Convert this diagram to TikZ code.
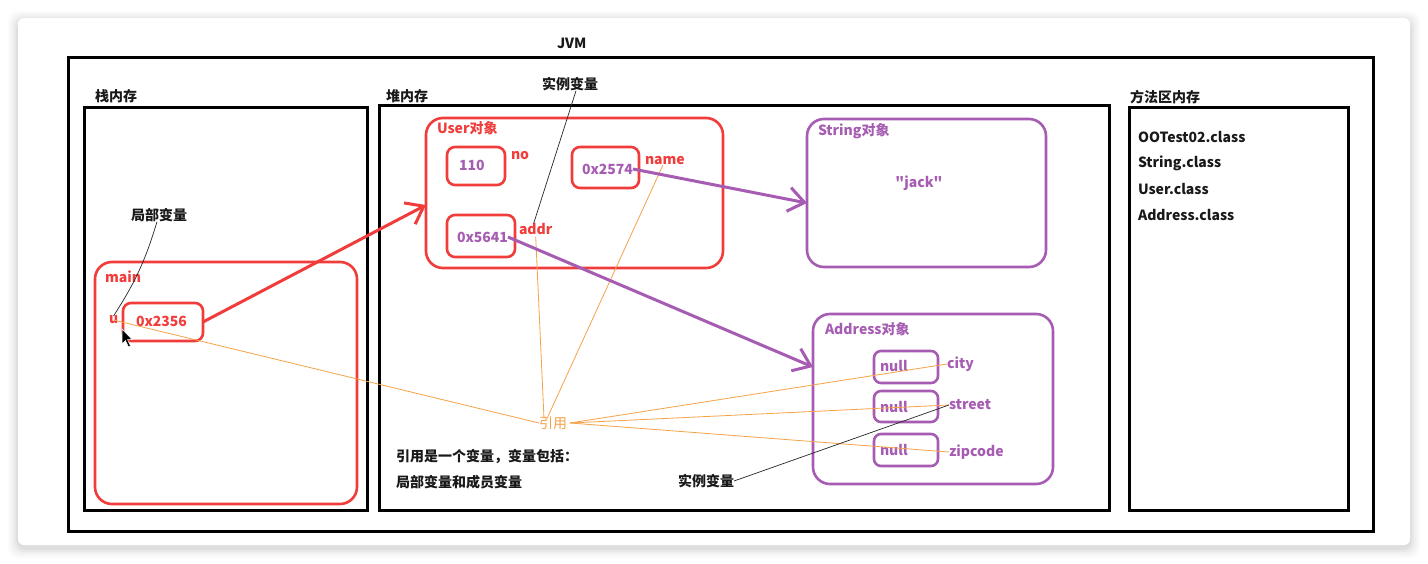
\documentclass[tikz,border=0pt]{standalone}
\usepackage{fontspec}
\setmainfont{Noto Sans CJK SC}
\newfontfamily\plainqf{Noto Sans CJK SC}
\usetikzlibrary{arrows.meta}
\definecolor{jred}{RGB}{240,60,58}
\definecolor{jpurple}{RGB}{166,92,178}
\definecolor{jorange}{RGB}{246,162,72}
\definecolor{jtxt}{RGB}{25,25,25}
\begin{document}
\begin{tikzpicture}[x=1pt,y=-1pt,
  frame/.style={draw=black,line width=3pt,inner sep=0pt,outer sep=0pt},
  redbox/.style={draw=jred,line width=2.6pt,rounded corners=17pt,inner sep=0pt,outer sep=0pt},
  redsmall/.style={draw=jred,line width=2.6pt,rounded corners=8pt,inner sep=0pt,outer sep=0pt},
  purbox/.style={draw=jpurple,line width=2.6pt,rounded corners=17pt,inner sep=0pt,outer sep=0pt},
  pursmall/.style={draw=jpurple,line width=2.6pt,rounded corners=7pt,inner sep=0pt,outer sep=0pt},
  lbl/.style={font=\fontsize{14}{16}\selectfont\bfseries,inner sep=0pt,outer sep=0pt,anchor=west,text=jtxt},
  redtxt/.style={lbl,text=jred},
  purtxt/.style={lbl,text=jpurple},
  orgtxt/.style={lbl,text=jorange,font=\fontsize{14}{16}\selectfont},
  refline/.style={draw=jorange,line width=0.8pt},
  noteline/.style={draw=black!85,line width=0.7pt},
  redarrow/.style={draw=jred,line width=3pt,-{Straight Barb[length=16pt,width=24pt,line width=3pt]}},
  purarrow/.style={draw=jpurple,line width=3pt,-{Straight Barb[length=16pt,width=24pt,line width=3pt]}}
]
\useasboundingbox (0,0) rectangle (1428,564);
\fill[white] (0,0) rectangle (1428,564);
% card shadow
\foreach \i/\o in {10/0.015,8/0.02,6/0.025,4/0.03,2/0.04}
  \fill[black,opacity=\o,rounded corners=10pt] (18-\i,18-\i+3) rectangle (1410+\i,545+\i+3);
\fill[white,rounded corners=6pt] (18,18) rectangle (1410,545);

% frames
\node[frame,minimum width=1305pt,minimum height=473pt] (jvm) at (720.5,294.5) {};
\node[lbl] (jvmlbl) at (557,43) {JVM};
\node[frame,minimum width=283pt,minimum height=402pt] (stack) at (225.5,309) {};
\node[lbl] (stacklbl) at (95,96) {栈内存};
\node[frame,minimum width=730pt,minimum height=404pt] (heap) at (744,308) {};
\node[lbl] (heaplbl) at (386,96) {堆内存};
\node[frame,minimum width=219pt,minimum height=402pt] (method) at (1238.5,309) {};
\node[lbl] (methodlbl) at (1130,97) {方法区内存};
\node[lbl] (c1) at (1138,137) {OOTest02.class};
\node[lbl] (c2) at (1138,163) {String.class};
\node[lbl] (c3) at (1138,189) {User.class};
\node[lbl] (c4) at (1138,215) {Address.class};

% stack frame main
\node[redbox,minimum width=262pt,minimum height=242pt] (main) at (226,383) {};
\node[redtxt] (mainlbl) at (105,277) {main};
\node[redsmall,minimum width=80pt,minimum height=38pt] (ptr) at (163,322) {};
\node[redtxt] (ptrtxt) at (136,321) {0x2356};
\node[redtxt] (u) at (109,320) {u};
\node[lbl] (local) at (131,215) {局部变量};

% User object
\node[redbox,minimum width=297pt,minimum height=150pt] (user) at (574.5,193) {};
\node[redtxt] (userlbl) at (437,128) {User对象};
\node[redsmall,minimum width=58pt,minimum height=38pt] (b110) at (476,166) {};
\node[purtxt] (t110) at (459,165) {110};
\node[redtxt] (no) at (511,156) {no};
\node[redsmall,minimum width=67pt,minimum height=41pt] (b2574) at (605.5,167.5) {};
\node[purtxt] (t2574) at (582,169) {0x2574};
\node[redtxt] (name) at (645,161) {name};
\node[redsmall,minimum width=68pt,minimum height=42pt] (b5641) at (481,236) {};
\node[purtxt] (t5641) at (457,237) {0x5641};
\node[redtxt] (addr) at (519,229) {addr};
\node[lbl] (inst1) at (542,84) {实例变量};

% String object
\node[purbox,minimum width=239pt,minimum height=148pt] (string) at (926.5,193) {};
\node[purtxt] (stringlbl) at (818,131) {String对象};
\node[purtxt,anchor=center] (jack) at (919,183) {\plainqf\bfseries "jack"};

% Address object
\node[purbox,minimum width=240pt,minimum height=170pt] (address) at (933,399) {};
\node[purtxt] (addresslbl) at (825,329) {Address对象};
\node[pursmall,minimum width=64pt,minimum height=32pt] (n1) at (906,367) {};
\node[pursmall,minimum width=64pt,minimum height=31pt] (n2) at (906,406.5) {};
\node[pursmall,minimum width=64pt,minimum height=32pt] (n3) at (906,450) {};
\node[purtxt] (n1t) at (880,366) {null};
\node[purtxt] (n2t) at (880,407) {null};
\node[purtxt] (n3t) at (880,450) {null};
\node[purtxt] (city) at (947,364) {city};
\node[purtxt] (street) at (949,405) {street};
\node[purtxt] (zip) at (949,452) {zipcode};

% notes
\node[orgtxt] (ref) at (539,423) {引用};
\node[lbl] (desc1) at (396,457) {引用是一个变量，变量包括：};
\node[lbl] (desc2) at (396,482) {局部变量和成员变量};
\node[lbl] (inst2) at (678,481) {实例变量};

% reference lines
\draw[refline] (u.center) -- (ref.west);
\draw[refline] ([yshift=-2pt]addr.south) -- ([xshift=5pt,yshift=-2pt]ref.north west);
\draw[refline] ([xshift=-2pt]name.south) -- ([xshift=8pt,yshift=-2pt]ref.north west);
\draw[refline] ([xshift=3pt]ref.east) -- (city.west);
\draw[refline] ([xshift=3pt]ref.east) -- (street.west);
\draw[refline] ([xshift=3pt]ref.east) -- (zip.west);

% annotation lines
\draw[noteline] ([xshift=-2pt]local.south) to[bend left=8] (u.north);
\draw[noteline] ([xshift=6pt]inst1.south) -- ([xshift=-2pt]addr.north);
\draw[noteline] (inst2.east) -- (street.west);

% pointer arrows
\draw[redarrow] (ptr.east) -- ([yshift=-12pt]user.west);
\draw[purarrow] (t2574.east) -- ([yshift=-10pt]string.west);
\draw[purarrow] (t5641.east) -- ([yshift=32pt]address.west);

% mouse cursor
\filldraw[fill=black,draw=white,line width=0.5pt] (122,329) -- (122,344) -- (125.5,340.5) -- (128.5,347) -- (130.5,346) -- (127.5,339.5) -- (132,339.5) -- cycle;
\end{tikzpicture}
\end{document}
